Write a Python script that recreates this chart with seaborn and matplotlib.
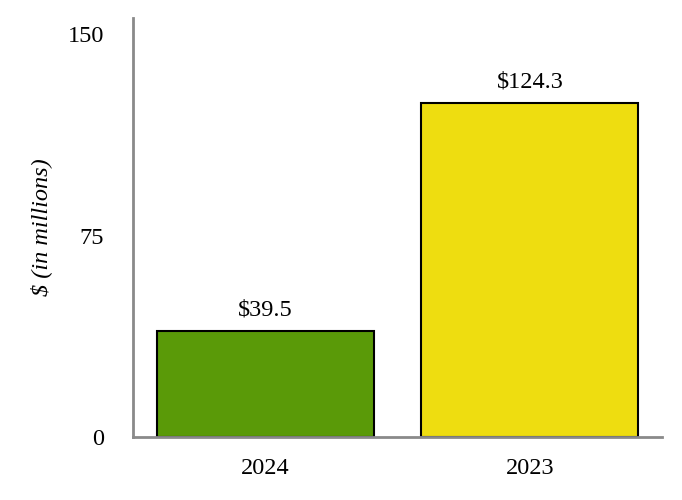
import pandas as pd
import seaborn as sns
import matplotlib.pyplot as plt

# chart values
years = ['2024', '2023']
amounts = [39.5, 124.3]
bar_colors = ['#5a9a08', '#eedd10']
labels = ['$39.5', '$124.3']

df = pd.DataFrame({'year': years, 'amount': amounts})

sns.set_style('white')
plt.rcParams['font.family'] = ['Liberation Serif', 'DejaVu Serif']
plt.rcParams['text.color'] = 'black'
plt.rcParams['xtick.color'] = 'black'
plt.rcParams['ytick.color'] = 'black'
plt.rcParams['axes.labelcolor'] = 'black'

fig = plt.figure(figsize=(6.82, 5), dpi=100)
ax = fig.add_axes([0.195, 0.126, 0.776, 0.838])

sns.barplot(data=df, x='year', y='amount', hue='year', palette=bar_colors,
            legend=False, width=0.82, edgecolor='black', linewidth=1.5,
            saturation=1, ax=ax)

# value labels above bars
for i, bar in enumerate(ax.patches):
    ax.text(bar.get_x() + bar.get_width() / 2, bar.get_height() + 4, labels[i],
            ha='center', va='bottom', fontsize=17.5)

ax.set_xlim(-0.5, 1.5)
ax.set_ylim(0, 156)
ax.set_yticks([0, 75, 150])
ax.tick_params(axis='both', length=0, labelsize=17.5)
ax.tick_params(axis='y', pad=21)
ax.tick_params(axis='x', pad=15)
ax.set_xlabel('')
ax.set_ylabel('$ (in millions)', fontsize=17.5, style='italic', labelpad=11)

sns.despine(ax=ax)
for side in ['left', 'bottom']:
    ax.spines[side].set_color('#8a8a8a')
    ax.spines[side].set_linewidth(2)

fig.savefig('out.png', dpi=100)
